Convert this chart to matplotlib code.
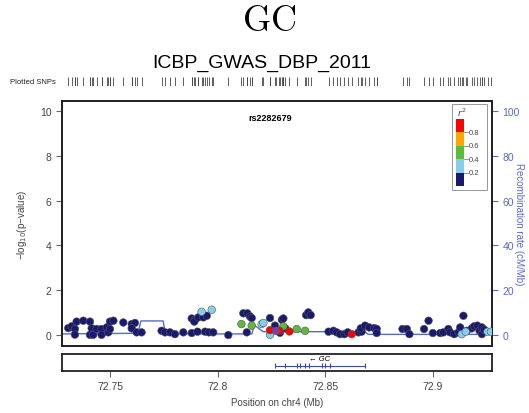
import numpy as np
import matplotlib
matplotlib.use('Agg')
import matplotlib.pyplot as plt
from matplotlib.patches import Rectangle

# SNP positions (Mb), -log10(p), LD class
snp_pos = [72.7306, 72.7322, 72.7337, 72.7337, 72.7345, 72.7376, 72.7407, 72.7415, 72.7407, 72.7422,
           72.7438, 72.7461, 72.7461, 72.7485, 72.7492, 72.7500, 72.7500, 72.7516, 72.7562, 72.7601,
           72.7616, 72.7601, 72.7624, 72.7647,
           72.7740, 72.7756, 72.7779, 72.7802, 72.7841, 72.7880, 72.7907, 72.7942, 72.7960, 72.7980,
           72.8050, 72.7880, 72.7895, 72.7892, 72.7911, 72.7934, 72.7950, 72.7926, 72.7973,
           72.8120, 72.8139, 72.8151, 72.8159, 72.8136, 72.8244, 72.8267, 72.8299, 72.8306, 72.8412,
           72.8422, 72.8433, 72.8111, 72.8159, 72.8306, 72.8368, 72.8407, 72.8205, 72.8213, 72.8244,
           72.8244, 72.8288, 72.8334, 72.8271, 72.8315, 72.8290,
           72.8516, 72.8539, 72.8554, 72.8570, 72.8590, 72.8605, 72.8624, 72.8655, 72.8670, 72.8666,
           72.8686, 72.8705, 72.8729, 72.8740, 72.8740, 72.8860,
           72.8880, 72.8892, 72.8960, 72.8981, 72.9001, 72.9035, 72.9050, 72.9073, 72.9081, 72.9100,
           72.9120, 72.9128, 72.9143, 72.9159, 72.9182, 72.9193, 72.9208, 72.9218, 72.9229, 72.9229,
           72.9240, 72.9135, 72.9154, 72.9255, 72.9271]
snp_logp = [0.31, 0.39, 0.27, 0.02, 0.60, 0.64, 0.60, 0.30, 0.01, 0.01,
            0.27, 0.27, 0.01, 0.34, 0.12, 0.27, 0.60, 0.64, 0.56, 0.49,
            0.54, 0.30, 0.12, 0.12,
            0.19, 0.12, 0.12, 0.04, 0.12, 0.09, 0.15, 0.15, 0.12, 0.12,
            0.00, 0.74, 0.68, 0.60, 0.79, 0.79, 0.86, 1.04, 1.13,
            0.97, 0.97, 0.83, 0.76, 0.12, 0.76, 0.42, 0.68, 0.74, 0.89,
            1.01, 0.89, 0.49, 0.42, 0.39, 0.27, 0.19, 0.49, 0.54, 0.01,
            0.22, 0.19, 0.16, 0.19, 0.30, 0.10,
            0.15, 0.19, 0.12, 0.04, 0.04, 0.12, 0.04, 0.12, 0.15, 0.30,
            0.42, 0.34, 0.31, 0.27, 0.09, 0.27,
            0.27, 0.04, 0.27, 0.64, 0.09, 0.09, 0.12, 0.27, 0.12, 0.04,
            0.12, 0.34, 0.86, 0.19, 0.30, 0.39, 0.42, 0.19, 0.34, 0.04,
            0.24, 0.04, 0.15, 0.15, 0.15]
snp_ld = (['n'] * 24 + ['n'] * 17 + ['b', 'b'] +
          ['n'] * 12 + ['g'] * 5 + ['b'] * 3 + ['r'] * 3 + ['lead', 'n', 'n'] +
          ['n'] * 6 + ['r'] + ['n'] * 9 +
          ['n'] * 21 + ['b'] * 4)

# recombination rate (cM/Mb)
recomb_pos = [72.7277, 72.7630, 72.7644, 72.7747, 72.7756, 72.7765, 72.8160, 72.8170,
              72.8212, 72.8686, 72.8700, 72.9276]
recomb_rate = [0.5, 0.8, 6.3, 6.3, 1.5, 0.5, 0.5, 4.5, 1.5, 1.5, 0.3, 0.3]

# gene GC
gene_start, gene_end = 72.8267, 72.8686
gene_exons = [72.8267, 72.8314, 72.8368, 72.8384, 72.8407, 72.8427, 72.8484, 72.8500, 72.8523, 72.8686]

ld_colors = {'n': '#191970', 'b': '#87CEEB', 'g': '#5DBB3C', 'o': '#FFA500', 'r': '#FF0000',
             'lead': '#7B3FA8'}
r2_breaks = [0.2, 0.4, 0.6, 0.8]
r2_colors = ['#191970', '#87CEEB', '#5DBB3C', '#FFA500', '#FF0000']
recomb_col = '#5b6bc4'

xlim = (72.7277, 72.9276)
ylim = (-0.49, 10.45)

fig = plt.figure(figsize=(5.29, 4.14), dpi=100)

fig.text(0.508, 0.950, r'$\mathrm{GC}$', math_fontfamily='cm', fontsize=26,
         ha='center', va='center')
fig.text(0.495, 0.846, 'ICBP_GWAS_DBP_2011', family='Liberation Sans', fontsize=14,
         ha='center', va='center')
fig.text(0.019, 0.800, 'Plotted SNPs', family='Liberation Sans', fontsize=5.5,
         ha='left', va='center', color='#222222')

# rug
rug = fig.add_axes([0.1172, 0.790, 0.8129, 0.022])
rug.vlines(snp_pos, 0, 1, color='#444444', lw=0.6)
rug.set_xlim(xlim)
rug.set_ylim(0, 1)
rug.axis('off')

# main panel
ax = fig.add_axes([0.1172, 0.1618, 0.8129, 0.5918])
ax2 = ax.twinx()
ax2.plot(recomb_pos, recomb_rate, color=recomb_col, lw=1.0, zorder=1)
ax2.set_ylim(ylim[0] * 10, ylim[1] * 10)
ax2.set_yticks([0, 20, 40, 60, 80, 100])
ax2.tick_params(axis='y', colors=recomb_col, labelsize=7.5, length=4)
ax2.set_ylabel('Recombination rate (cM/Mb)', color=recomb_col, fontsize=7, rotation=270,
               labelpad=3, family='Liberation Sans')
for lab in ax2.get_yticklabels():
    lab.set_family('Liberation Sans')

ax.set_zorder(ax2.get_zorder() + 1)
ax.patch.set_visible(False)
order = {'n': 0, 'b': 1, 'g': 2, 'o': 3, 'r': 4, 'lead': 5}
idx = sorted(range(len(snp_pos)), key=lambda i: order[snp_ld[i]])
ax.scatter([snp_pos[i] for i in idx], [snp_logp[i] for i in idx],
           c=[ld_colors[snp_ld[i]] for i in idx], s=30, edgecolors='#555555',
           linewidths=0.4, zorder=3)
ax.text(72.8244, 9.7, 'rs2282679', fontsize=6.5, fontweight='bold', ha='center', va='center',
        family='Liberation Sans')
ax.set_xlim(xlim)
ax.set_ylim(ylim)
ax.set_yticks([0, 2, 4, 6, 8, 10])
ax.set_xticks([])
ax.tick_params(axis='y', colors='#666666', labelcolor='#444444', labelsize=7.5, length=4)
for lab in ax.get_yticklabels():
    lab.set_family('Liberation Sans')
ax.set_ylabel('\u2212log$_{10}$(p\u2212value)', fontsize=7, color='#444444', labelpad=8,
              family=['Liberation Sans', 'DejaVu Sans'])
for a in (ax, ax2):
    for s in a.spines.values():
        s.set_linewidth(1.3)
        s.set_color('#222222')

# legend
leg_x0, leg_y0, leg_w, leg_h = 0.907, 0.637, 0.081, 0.351
ax.add_patch(Rectangle((leg_x0, leg_y0), leg_w, leg_h, transform=ax.transAxes,
                       facecolor='white', edgecolor='#888888', lw=0.6, zorder=4))
bx, bw = 0.916, 0.019
by0, bh = 0.653, 0.0547
for k, col in enumerate(r2_colors):
    ax.add_patch(Rectangle((bx, by0 + k * bh), bw, bh, transform=ax.transAxes,
                           facecolor=col, edgecolor='none', zorder=5))
for k, v in enumerate(r2_breaks):
    yy = by0 + (k + 1) * bh
    ax.plot([bx + bw, bx + bw + 0.008], [yy, yy], transform=ax.transAxes, color='#666666',
            lw=0.5, zorder=5)
    ax.text(bx + bw + 0.011, yy, str(v), transform=ax.transAxes, fontsize=5.5, va='center',
            ha='left', color='#444444', zorder=5, family='Liberation Sans')
ax.text(bx + bw / 2 + 0.005, 0.955, r'$r^2$', transform=ax.transAxes, fontsize=6.5,
        ha='center', va='center', color='#444444', zorder=5)

# gene track
gax = fig.add_axes([0.1172, 0.1014, 0.8129, 0.0411])
gax.hlines(0.3, gene_start, gene_end, color='#3a4aa8', lw=0.8)
gax.vlines(gene_exons, 0.15, 0.45, color='#3a4aa8', lw=0.8)
gax.text((gene_start + gene_end) / 2, 0.72, '\u2190 GC', fontsize=5.5, ha='center',
         va='center', style='italic', family=['Liberation Sans', 'DejaVu Sans'])
gax.set_xlim(xlim)
gax.set_ylim(0, 1)
gax.set_yticks([])
gax.set_xticks([72.75, 72.8, 72.85, 72.9])
gax.set_xticklabels(['72.75', '72.8', '72.85', '72.9'], family='Liberation Sans')
gax.tick_params(axis='x', colors='#666666', labelcolor='#444444', labelsize=7.5, length=4)
for s in gax.spines.values():
    s.set_linewidth(1.3)
    s.set_color('#222222')
gax.set_xlabel('Position on chr4 (Mb)', fontsize=7, color='#444444', family='Liberation Sans',
               labelpad=4)

fig.savefig('out.png', dpi=100)
